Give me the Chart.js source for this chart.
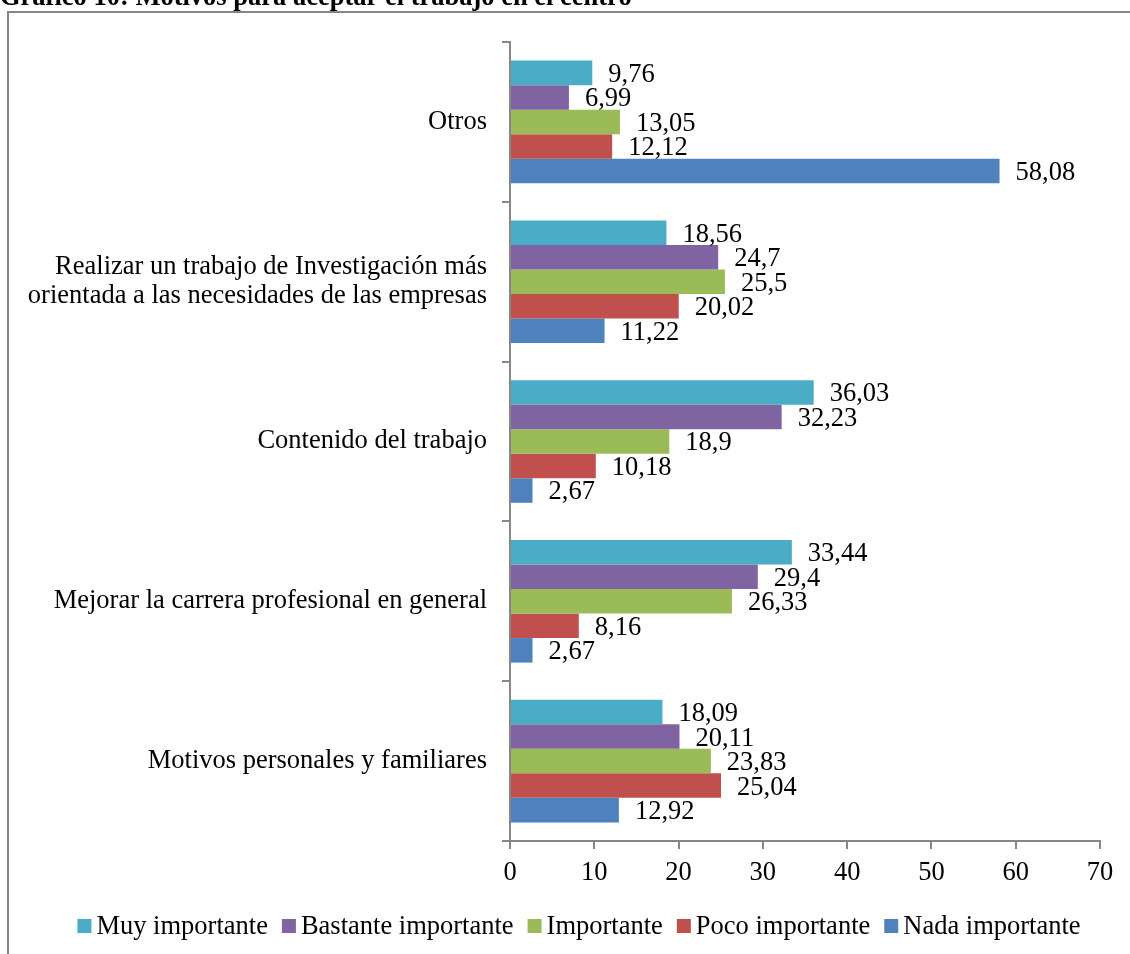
<!DOCTYPE html>
<html>
<head>
<meta charset="utf-8">
<script src="https://cdn.jsdelivr.net/npm/chart.js@4/dist/chart.umd.min.js"></script>
<style>
  html, body { margin: 0; padding: 0; background: #fff; overflow: hidden; }
</style>
</head>
<body>
<canvas id="motivosChart" width="1130" height="954"></canvas>
<script>
// Gráfico 10: Motivos para aceptar el trabajo en el centro
const categories = [
  "Otros",
  ["Realizar un trabajo de Investigación más", "orientada a las necesidades de las empresas"],
  "Contenido del trabajo",
  "Mejorar la carrera profesional en general",
  "Motivos personales y familiares"
];
const seriesNames = ["Muy importante", "Bastante importante", "Importante", "Poco importante", "Nada importante"];
const muyImportante      = [9.76, 18.56, 36.03, 33.44, 18.09];
const bastanteImportante = [6.99, 24.7, 32.23, 29.4, 20.11];
const importante         = [13.05, 25.5, 18.9, 26.33, 23.83];
const pocoImportante     = [12.12, 20.02, 10.18, 8.16, 25.04];
const nadaImportante     = [58.08, 11.22, 2.67, 2.67, 12.92];
const xTicks = [0, 10, 20, 30, 40, 50, 60, 70];

const colors = ["#4BACC6", "#8064A2", "#9BBB59", "#C0504D", "#4F81BD"];
const serif = "'Liberation Serif', 'Times New Roman', serif";
const axisGray = "#878787";

const allSeries = [muyImportante, bastanteImportante, importante, pocoImportante, nadaImportante];

// title, frame and legend drawn on the same canvas
const framePlugin = {
  id: 'frame',
  beforeDraw(chart) {
    const ctx = chart.ctx;
    ctx.save();
    ctx.strokeStyle = axisGray;
    ctx.lineWidth = 2;
    ctx.beginPath();
    ctx.moveTo(8, 954);
    ctx.lineTo(8, 12);
    ctx.lineTo(1130, 12);
    ctx.stroke();
    ctx.fillStyle = "#000";
    ctx.font = "bold 26.5px " + serif;
    ctx.textBaseline = "alphabetic";
    ctx.textAlign = "left";
    ctx.fillText("Gráfico 10: Motivos para aceptar el trabajo en el centro", 0, 5);
    ctx.restore();
  },
  afterDraw(chart) {
    const ctx = chart.ctx;
    ctx.save();
    ctx.font = "26.5px " + serif;
    ctx.textBaseline = "middle";
    ctx.textAlign = "left";
    const box = 14, gap = 5, spacing = 14;
    const widths = seriesNames.map(n => ctx.measureText(n).width);
    let total = widths.reduce((a, b) => a + b, 0) + seriesNames.length * (box + gap) + (seriesNames.length - 1) * spacing;
    let x = 579 - total / 2;
    const y = 926;
    seriesNames.forEach((n, i) => {
      ctx.fillStyle = colors[i];
      ctx.fillRect(x, y - box / 2, box, box);
      ctx.fillStyle = "#000";
      ctx.fillText(n, x + box + gap, y + 1);
      x += box + gap + widths[i] + spacing;
    });
    ctx.restore();
  }
};

// value labels next to each bar
const valueLabels = {
  id: 'valueLabels',
  afterDatasetsDraw(chart) {
    const ctx = chart.ctx;
    ctx.save();
    ctx.font = "26.5px " + serif;
    ctx.fillStyle = "#000";
    ctx.textAlign = "left";
    ctx.textBaseline = "middle";
    chart.data.datasets.forEach((ds, i) => {
      chart.getDatasetMeta(i).data.forEach((bar, j) => {
        const txt = String(ds.data[j]).replace('.', ',');
        ctx.fillText(txt, bar.x + 16, bar.y + 2);
      });
    });
    ctx.restore();
  }
};

new Chart(document.getElementById("motivosChart"), {
  type: 'bar',
  data: {
    labels: categories,
    datasets: seriesNames.map((name, i) => ({
      label: name,
      data: allSeries[i],
      backgroundColor: colors[i],
      borderWidth: 0,
      categoryPercentage: 0.767,
      barPercentage: 1.0
    }))
  },
  options: {
    indexAxis: 'y',
    responsive: false,
    animation: false,
    layout: { padding: { top: 42, right: 30, left: 0, bottom: 53 } },
    plugins: {
      legend: { display: false },
      tooltip: { enabled: false }
    },
    scales: {
      x: {
        min: 0,
        max: 70,
        afterBuildTicks(scale) { scale.ticks = xTicks.map(v => ({ value: v })); },
        afterFit(scale) { scale.height = 60; },
        border: { color: axisGray, width: 2 },
        grid: { drawOnChartArea: false, color: axisGray, lineWidth: 2, tickLength: 8 },
        ticks: { color: "#000", padding: 8, font: { family: serif, size: 26.5 } }
      },
      y: {
        afterFit(scale) { scale.width = 510; },
        border: { color: axisGray, width: 2 },
        grid: { drawOnChartArea: false, offset: true, color: axisGray, lineWidth: 2, tickLength: 8 },
        ticks: { color: "#000", padding: 15, font: { family: serif, size: 26.5, lineHeight: 1.1 } }
      }
    }
  },
  plugins: [framePlugin, valueLabels]
});
</script>
</body>
</html>
